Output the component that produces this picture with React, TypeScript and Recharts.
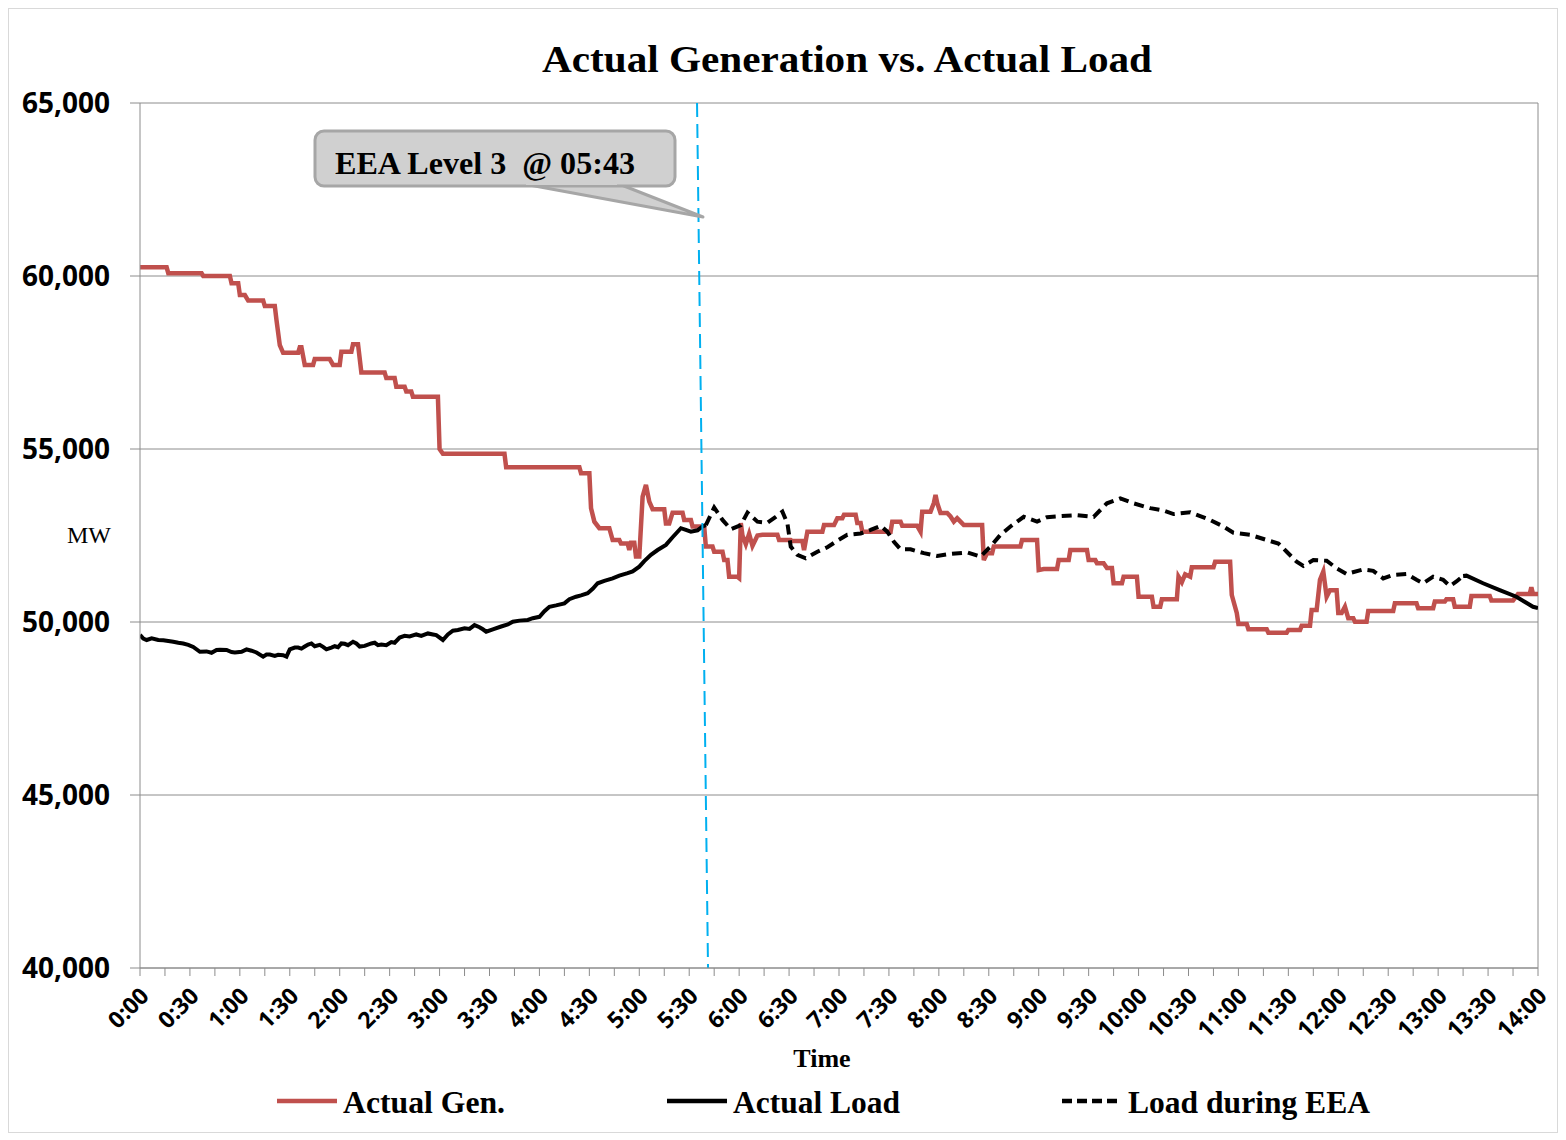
import React from 'react';
import {
  LineChart,
  Line,
  XAxis,
  YAxis,
  CartesianGrid,
  ReferenceLine,
} from 'recharts';

// [minutes after midnight, MW]
const ACTUAL_GEN: [number, number][] = [
  [0, 60250], [16, 60250], [17, 60080], [37, 60080], [38, 60000], [54, 60000],
  [55, 59790], [59, 59790], [60, 59450], [63, 59450], [65, 59290], [74, 59290],
  [75, 59130], [81, 59130], [82, 58730], [84, 58000], [86, 57780], [95, 57780],
  [96, 57940], [97, 57940], [99, 57430], [104, 57430], [105, 57600], [114, 57600],
  [116, 57430], [120, 57430], [121, 57810], [127, 57810], [128, 58030], [131, 58030],
  [133, 57210], [147, 57210], [148, 57050], [153, 57050], [154, 56800], [159, 56800],
  [160, 56660], [163, 56660], [164, 56510], [179, 56510], [180, 55000], [182, 54860],
  [219, 54860], [220, 54470], [264, 54470], [265, 54300], [270, 54300], [271, 53290],
  [273, 52900], [276, 52710], [282, 52710], [284, 52370], [288, 52370], [289, 52270],
  [293, 52270], [294, 52080], [295, 52290], [297, 52290], [298, 51890], [300, 51890],
  [302, 53620], [304, 53960], [306, 53480], [308, 53260], [315, 53260], [316, 52850],
  [318, 52850], [320, 53160], [326, 53160], [327, 52950], [331, 52950], [332, 52760],
  [339, 52760], [340, 52180], [344, 52180], [345, 52030], [350, 52030], [351, 51790],
  [353, 51790], [354, 51310], [359, 51310], [360, 51270], [361, 52860], [362, 52500],
  [364, 52250], [366, 52550], [368, 52200], [371, 52500], [374, 52520], [383, 52520],
  [384, 52370], [391, 52370], [392, 52340], [398, 52340], [399, 52080], [401, 52610],
  [410, 52610], [411, 52800], [417, 52800], [419, 53000], [422, 53000], [423, 53100],
  [430, 53100], [431, 52860], [433, 52860], [434, 52610], [451, 52610], [452, 52900],
  [457, 52900], [458, 52780], [467, 52780], [469, 52610], [470, 53190], [475, 53190],
  [477, 53440], [478, 53670], [479, 53440], [481, 53150], [485, 53150], [487, 53050],
  [489, 52900], [491, 53000], [493, 52900], [495, 52800], [506, 52800], [507, 51790],
  [509, 51990], [512, 51990], [513, 52180], [529, 52180], [530, 52370], [539, 52370],
  [540, 51500], [543, 51530], [551, 51530], [552, 51790], [558, 51790], [559, 52080],
  [569, 52080], [570, 51790], [574, 51790], [575, 51700], [579, 51700], [581, 51560],
  [584, 51560], [585, 51120], [590, 51120], [591, 51310], [599, 51310], [600, 50730],
  [608, 50730], [609, 50440], [613, 50440], [614, 50660], [623, 50660], [624, 51310],
  [626, 51150], [628, 51380], [631, 51310], [632, 51580], [645, 51580], [646, 51740],
  [655, 51740], [656, 50780], [659, 50260], [660, 49940], [665, 49940], [666, 49790],
  [677, 49790], [678, 49690], [689, 49690], [690, 49770], [697, 49770], [698, 49890],
  [703, 49890], [704, 50350], [707, 50350], [709, 51220], [711, 51460], [713, 50730],
  [715, 50920], [719, 50920], [720, 50260], [722, 50260], [724, 50440], [726, 50110],
  [729, 50110], [730, 50010], [737, 50010], [738, 50320], [753, 50320], [754, 50540],
  [767, 50540], [768, 50400], [777, 50400], [778, 50590], [784, 50590], [785, 50660],
  [789, 50660], [790, 50440], [799, 50440], [800, 50750], [811, 50750], [812, 50620],
  [825, 50620], [828, 50810], [835, 50810], [836, 51000], [837, 50810], [840, 50810],
];

const ACTUAL_LOAD_BEFORE: [number, number][] = [
  [0, 49625], [2, 49520], [4, 49480], [7, 49530], [11, 49480], [14, 49470],
  [17, 49450], [20, 49430], [23, 49400], [26, 49380], [29, 49340], [32, 49280],
  [36, 49140], [40, 49150], [43, 49110], [46, 49190], [48, 49200], [52, 49190],
  [55, 49130], [57, 49120], [61, 49140], [64, 49210], [67, 49170], [70, 49120],
  [74, 49000], [76, 49060], [78, 49060], [81, 49020], [83, 49050], [86, 49040],
  [88, 49000], [90, 49210], [93, 49260], [95, 49260], [97, 49230], [99, 49290],
  [101, 49350], [103, 49380], [105, 49300], [108, 49340], [110, 49280], [112, 49210],
  [115, 49260], [117, 49300], [119, 49270], [121, 49380], [123, 49370], [125, 49330],
  [128, 49430], [130, 49380], [132, 49290], [135, 49310], [139, 49380], [141, 49400],
  [143, 49330], [145, 49350], [148, 49330], [151, 49420], [153, 49400], [156, 49550],
  [159, 49600], [162, 49580], [166, 49640], [169, 49600], [173, 49670], [176, 49640],
  [178, 49620], [182, 49480], [185, 49640], [188, 49750], [191, 49770], [195, 49820],
  [198, 49800], [201, 49910], [204, 49850], [206, 49790], [208, 49720], [212, 49790],
  [217, 49870], [221, 49930], [224, 50010], [228, 50040], [233, 50060], [236, 50110],
  [240, 50150], [243, 50310], [246, 50440], [250, 50480], [255, 50540], [258, 50660],
  [262, 50730], [265, 50770], [269, 50830], [272, 50960], [275, 51120], [279, 51190],
  [284, 51260], [288, 51340], [293, 51410], [296, 51460], [300, 51600], [303, 51760],
  [307, 51940], [311, 52080], [316, 52230], [320, 52450], [325, 52710], [328, 52660],
  [331, 52610], [335, 52650], [338, 52760], [340, 52800],
];

const LOAD_DURING_EEA: [number, number][] = [
  [340, 52800], [345, 53310], [350, 52950], [355, 52680], [361, 52800], [365, 53160],
  [371, 52900], [377, 52870], [382, 53040], [386, 53190], [389, 52850], [391, 52180],
  [395, 51940], [400, 51840], [407, 52030], [413, 52160], [419, 52350], [425, 52520],
  [433, 52560], [439, 52660], [445, 52780], [449, 52610], [453, 52320], [457, 52100],
  [463, 52100], [471, 51990], [479, 51910], [487, 51970], [497, 52010], [505, 51890],
  [511, 52180], [517, 52520], [523, 52760], [531, 53040], [539, 52900], [545, 53030],
  [553, 53060], [563, 53090], [573, 53040], [581, 53430], [589, 53570], [597, 53430],
  [607, 53290], [615, 53220], [621, 53120], [631, 53170], [637, 53060], [643, 52950],
  [651, 52760], [657, 52580], [667, 52520], [677, 52370], [684, 52270], [689, 52030],
  [695, 51740], [699, 51620], [705, 51790], [713, 51770], [719, 51550], [725, 51390],
  [735, 51520], [741, 51480], [747, 51260], [753, 51360], [761, 51390], [767, 51220],
  [771, 51120], [777, 51310], [783, 51220], [787, 51040], [791, 51170], [795, 51330],
];

const ACTUAL_LOAD_AFTER: [number, number][] = [
  [795, 51330], [797, 51340], [807, 51120], [817, 50920], [827, 50730], [837, 50440],
  [840, 50400],
];

const Y_TICKS = [40000, 45000, 50000, 55000, 60000, 65000];
const X_TICKS = Array.from({ length: 57 }, (_, i) => i * 15);

// EEA marker (drawn slightly slanted in the original)
const EEA_LABEL = 'EEA Level 3  @ 05:43';
const EEA_T_TOP = 334.7;
const EEA_T_BOTTOM = 341.3;

const W = 1548;
const H = 1123;
const MARGIN = { top: 94, right: 19, left: 0, bottom: 64 };
const Y_AXIS_W = 131;
const X_AXIS_H = 100;

const GRAY = '#8c8c8c';
const RED = '#C0504D';
const SERIF = '"Liberation Serif", "Times New Roman", serif';
const SANS = '"Open Sans", "Liberation Sans", sans-serif';

const toRows = (pts: [number, number][]) => pts.map(([t, v]) => ({ t, v }));

const genData = toRows(ACTUAL_GEN);
const loadData = [
  ...toRows(ACTUAL_LOAD_BEFORE),
  { t: 341, v: null },
  ...toRows(ACTUAL_LOAD_AFTER),
];
const eeaData = toRows(LOAD_DURING_EEA);

const fmtTime = (m: number) => `${Math.floor(m / 60)}:${String(m % 60).padStart(2, '0')}`;

const TimeTick = (props: any) => {
  const { x, y, payload } = props;
  const m = payload.value as number;
  if (m % 30 !== 0) return null;
  const tx = x + 4;
  const ty = y + 13;
  return (
    <text
      x={tx}
      y={ty}
      transform={`rotate(-45, ${tx}, ${ty})`}
      textAnchor="end"
      dominantBaseline="central"
      fontFamily={SANS}
      fontWeight="bold"
      fontSize={23}
      fill="#000"
    >
      {fmtTime(m)}
    </text>
  );
};

const legendText = { fontFamily: SERIF, fontWeight: 'bold', fontSize: 31 } as const;

const Overlay = () => (
  <svg
    width={W}
    height={H}
    style={{ position: 'absolute', left: 0, top: 0, pointerEvents: 'none' }}
  >
    <text x={533} y={63} textLength={610} lengthAdjust="spacingAndGlyphs" fontFamily={SERIF} fontWeight="bold" fontSize={38}>
      Actual Generation vs. Actual Load
    </text>
    <text x={80} y={526} textAnchor="middle" dominantBaseline="central" fontFamily={SERIF} fontSize={24}>
      MW
    </text>
    <text x={813} y={1049} textAnchor="middle" dominantBaseline="central" fontFamily={SERIF} fontWeight="bold" fontSize={26}>
      Time
    </text>

    {/* callout */}
    <path d="M 515 175 L 694 208 L 610 175 Z" fill="#D0D0D0" stroke="#A6A6A6" strokeWidth={3} strokeLinejoin="round" />
    <rect x={306} y={122} width={360} height={55} rx={9} fill="#D0D0D0" stroke="#A6A6A6" strokeWidth={3} />
    <rect x={517} y={172} width={91} height={4} fill="#D0D0D0" />
    <text x={326} y={165} textLength={300} lengthAdjust="spacingAndGlyphs" fontFamily={SERIF} fontWeight="bold" fontSize={31} style={{ whiteSpace: 'pre' }}>
      {EEA_LABEL}
    </text>

    {/* legend */}
    <line x1={268} y1={1092} x2={328} y2={1092} stroke={RED} strokeWidth={4.5} />
    <text x={334} y={1093} textLength={162} lengthAdjust="spacingAndGlyphs" dominantBaseline="central" {...legendText}>
      Actual Gen.
    </text>
    <line x1={658} y1={1092} x2={718} y2={1092} stroke="#000" strokeWidth={4.5} />
    <text x={724} y={1093} textLength={167} lengthAdjust="spacingAndGlyphs" dominantBaseline="central" {...legendText}>
      Actual Load
    </text>
    <line x1={1053} y1={1092} x2={1113} y2={1092} stroke="#000" strokeWidth={4.5} strokeDasharray="10 5" />
    <text x={1119} y={1093} textLength={242} lengthAdjust="spacingAndGlyphs" dominantBaseline="central" {...legendText}>
      Load during EEA
    </text>
  </svg>
);

export default function App() {
  return (
    <div
      style={{
        position: 'relative',
        width: W,
        height: H,
        border: '1px solid #D9D9D9',
        background: '#fff',
      }}
    >
      <LineChart width={W} height={H} margin={MARGIN}>
        <CartesianGrid vertical={false} stroke={GRAY} strokeWidth={1} />
        <XAxis
          dataKey="t"
          type="number"
          domain={[0, 840]}
          ticks={X_TICKS}
          interval={0}
          height={X_AXIS_H}
          tick={<TimeTick />}
          tickSize={8}
          axisLine={{ stroke: GRAY }}
          tickLine={{ stroke: GRAY }}
          allowDataOverflow
        />
        <YAxis
          type="number"
          domain={[40000, 65000]}
          ticks={Y_TICKS}
          width={Y_AXIS_W}
          tickSize={10}
          tickMargin={20}
          tickFormatter={(v: number) => v.toLocaleString('en-US')}
          tick={{ fill: '#000', fontSize: 28, fontWeight: 'bold', fontFamily: SANS }}
          axisLine={{ stroke: GRAY }}
          tickLine={{ stroke: GRAY }}
        />
        <ReferenceLine x={840} stroke={GRAY} />
        <Line
          data={genData}
          dataKey="v"
          type="linear"
          stroke={RED}
          strokeWidth={4.5}
          dot={false}
          isAnimationActive={false}
        />
        <Line
          data={loadData}
          dataKey="v"
          type="linear"
          stroke="#000"
          strokeWidth={4}
          dot={false}
          isAnimationActive={false}
        />
        <Line
          data={eeaData}
          dataKey="v"
          type="linear"
          stroke="#000"
          strokeWidth={4}
          strokeDasharray="10 6"
          dot={false}
          isAnimationActive={false}
        />
        <ReferenceLine
          segment={[
            { x: EEA_T_TOP, y: 65000 },
            { x: EEA_T_BOTTOM, y: 40000 },
          ]}
          stroke="#00B0F0"
          strokeWidth={2}
          strokeDasharray="14 7"
          ifOverflow="visible"
        />
      </LineChart>
      <Overlay />
    </div>
  );
}
